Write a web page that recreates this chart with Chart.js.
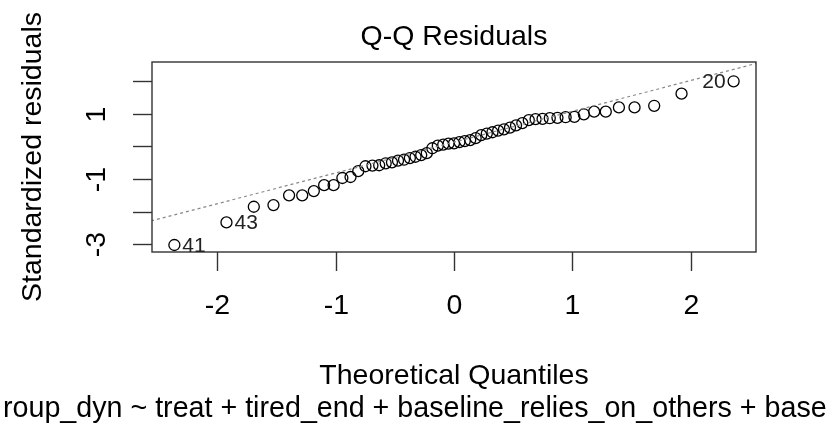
<!DOCTYPE html>
<html>
<head>
<meta charset="utf-8">
<script src="https://cdn.jsdelivr.net/npm/chart.js@4.4.0/dist/chart.umd.min.js"></script>
<style>
  html, body { margin: 0; padding: 0; background: #fff; }
  #wrap { width: 831px; height: 426px; }
</style>
</head>
<body>
<div id="wrap"><canvas id="grafico" width="831" height="426"></canvas></div>
<script>
// cuantiles teoricos (eje x) y residuos estandarizados (eje y), ordenados
const cuantiles = [
  -2.362, -1.922, -1.691, -1.525, -1.393, -1.282, -1.184, -1.097, -1.017, -0.943,
  -0.874, -0.809, -0.748, -0.689, -0.632, -0.577, -0.524, -0.473, -0.422, -0.373,
  -0.325, -0.277, -0.230, -0.183, -0.137, -0.091, -0.046, 0.000, 0.046, 0.091,
  0.137, 0.183, 0.230, 0.277, 0.325, 0.373, 0.422, 0.473, 0.524, 0.577,
  0.632, 0.689, 0.748, 0.809, 0.874, 0.943, 1.017, 1.097, 1.184, 1.282,
  1.393, 1.525, 1.691, 1.922, 2.362
];
const residuos = [
  -3.02, -2.33, -1.85, -1.80, -1.50, -1.50, -1.37, -1.19, -1.19, -0.97,
  -0.94, -0.76, -0.61, -0.59, -0.58, -0.52, -0.49, -0.44, -0.41, -0.36,
  -0.32, -0.27, -0.21, -0.06, 0.02, 0.05, 0.08, 0.09, 0.13, 0.16,
  0.19, 0.25, 0.34, 0.39, 0.43, 0.48, 0.52, 0.57, 0.64, 0.71,
  0.80, 0.83, 0.84, 0.86, 0.87, 0.89, 0.90, 0.98, 1.06, 1.06,
  1.19, 1.19, 1.24, 1.61, 1.99
];
// puntos etiquetados: indice, texto, lado
const etiquetasIdx = [0, 1, 54];
const etiquetasTxt = ['41', '43', '20'];
const etiquetasLado = ['derecha', 'derecha', 'izquierda'];

// linea qq (extremos)
const lineaX = [-3, 3];
const lineaY = [-2.701, 2.957];

const ticksX = [-2, -1, 0, 1, 2];
const ticksY = [-3, -2, -1, 0, 1, 2];
const etiquetasY = [-3, -1, 1];

const titulo = 'Q-Q Residuals';
const tituloX = 'Theoretical Quantiles';
const tituloY = 'Standardized residuals';
const subtitulo = 'roup_dyn ~ treat + tired_end + baseline_relies_on_others + base';

const FUENTE = '"Liberation Sans", Arial, sans-serif';

const puntos = cuantiles.map((x, i) => ({ x: x, y: residuos[i] }));

// plugin para dibujar ejes al estilo R
const ejesR = {
  id: 'ejesR',
  afterDraw(chart) {
    const ctx = chart.ctx;
    const area = chart.chartArea;
    const sx = chart.scales.x;
    const sy = chart.scales.y;
    ctx.save();
    ctx.strokeStyle = '#333';
    ctx.lineWidth = 1.4;
    ctx.strokeRect(area.left, area.top, area.right - area.left, area.bottom - area.top);

    ctx.fillStyle = '#000';
    ctx.font = '28.5px ' + FUENTE;
    // ticks x
    ctx.textAlign = 'center';
    ctx.textBaseline = 'middle';
    ticksX.forEach(v => {
      const px = Math.round(sx.getPixelForValue(v)) + 0.5;
      ctx.beginPath();
      ctx.moveTo(px, area.bottom);
      ctx.lineTo(px, area.bottom + 19);
      ctx.stroke();
      ctx.fillText(String(v), px, 306);
    });
    // ticks y
    ticksY.forEach(v => {
      const py = Math.round(sy.getPixelForValue(v)) + 0.5;
      ctx.beginPath();
      ctx.moveTo(area.left, py);
      ctx.lineTo(area.left - 19, py);
      ctx.stroke();
      if (etiquetasY.includes(v)) {
        ctx.save();
        ctx.translate(97, py);
        ctx.rotate(-Math.PI / 2);
        ctx.fillText(String(v), 0, 0);
        ctx.restore();
      }
    });

    // titulos
    ctx.fillText(titulo, (area.left + area.right) / 2, 37);
    ctx.fillText(tituloX, (area.left + area.right) / 2, 376);
    ctx.save();
    ctx.translate(33, (area.top + area.bottom) / 2);
    ctx.rotate(-Math.PI / 2);
    ctx.textAlign = 'center';
    ctx.fillText(tituloY, 0, 0);
    ctx.restore();

    // subtitulo recortado: ocupa todo el ancho
    const ancho = ctx.measureText(subtitulo).width;
    const tam = 28.5 * 824 / ancho;
    ctx.font = tam.toFixed(2) + 'px ' + FUENTE;
    ctx.textAlign = 'left';
    ctx.fillText(subtitulo, 3, 409);

    // etiquetas de puntos
    ctx.font = '21px ' + FUENTE;
    ctx.fillStyle = '#222';
    etiquetasIdx.forEach((idx, k) => {
      const px = sx.getPixelForValue(cuantiles[idx]);
      const py = sy.getPixelForValue(residuos[idx]);
      if (etiquetasLado[k] === 'derecha') {
        ctx.textAlign = 'left';
        ctx.fillText(etiquetasTxt[k], px + 8, py + 1);
      } else {
        ctx.textAlign = 'right';
        ctx.fillText(etiquetasTxt[k], px - 8, py + 1);
      }
    });
    ctx.restore();
  }
};

const ctx = document.getElementById('grafico').getContext('2d');
new Chart(ctx, {
  type: 'scatter',
  data: {
    datasets: [
      {
        type: 'line',
        data: lineaX.map((x, i) => ({ x: x, y: lineaY[i] })),
        borderColor: '#888',
        borderWidth: 1.2,
        borderDash: [3, 3],
        pointRadius: 0,
        fill: false
      },
      {
        data: puntos,
        pointRadius: 5.5,
        pointBorderWidth: 1.3,
        pointBorderColor: '#000',
        pointBackgroundColor: 'rgba(0,0,0,0)',
        pointStyle: 'circle'
      }
    ]
  },
  options: {
    responsive: false,
    animation: false,
    events: [],
    layout: { padding: { left: 152, right: 75, top: 62, bottom: 174 } },
    plugins: { legend: { display: false }, tooltip: { enabled: false } },
    scales: {
      x: {
        type: 'linear', min: -2.551, max: 2.551,
        display: true,
        grid: { display: false },
        border: { display: false },
        ticks: { display: false },
        afterFit(scale) { scale.height = 0; }
      },
      y: {
        type: 'linear', min: -3.235, max: 2.58,
        display: true,
        grid: { display: false },
        border: { display: false },
        ticks: { display: false },
        afterFit(scale) { scale.width = 0; }
      }
    }
  },
  plugins: [ejesR]
});
</script>
</body>
</html>
